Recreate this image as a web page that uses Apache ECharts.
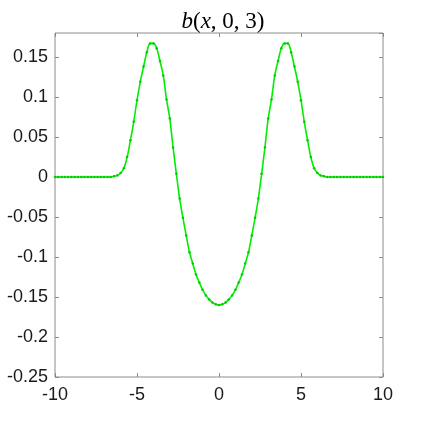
<!DOCTYPE html>
<html><head><meta charset="utf-8">
<script src="https://cdn.jsdelivr.net/npm/echarts@6/dist/echarts.min.js"></script>
<style>html,body{margin:0;padding:0;background:#fff}#c{width:423px;height:423px}</style>
</head><body><div id="c"></div>
<script>
const xValues = [-10,-9.8,-9.6,-9.4,-9.2,-9,-8.8,-8.6,-8.4,-8.2,-8,-7.8,-7.6,-7.4,-7.2,-7,-6.8,-6.6,-6.4,-6.2,-6,-5.8,-5.6,-5.4,-5.2,-5,-4.8,-4.6,-4.4,-4.2,-4,-3.8,-3.6,-3.4,-3.2,-3,-2.8,-2.6,-2.4,-2.2,-2,-1.8,-1.6,-1.4,-1.2,-1,-0.8,-0.6,-0.4,-0.2,0,0.2,0.4,0.6,0.8,1,1.2,1.4,1.6,1.8,2,2.2,2.4,2.6,2.8,3,3.2,3.4,3.6,3.8,4,4.2,4.4,4.6,4.8,5,5.2,5.4,5.6,5.8,6,6.2,6.4,6.6,6.8,7,7.2,7.4,7.6,7.8,8,8.2,8.4,8.6,8.8,9,9.2,9.4,9.6,9.8,10];
const bValues = [0,0,0,0,0,0,0,0,0,0,0,0,0,0,0,0,0,0,0.001,0.002,0.005,0.011,0.025,0.046,0.069,0.096,0.119,0.138,0.156,0.167,0.167,0.161,0.145,0.127,0.097,0.073,0.037,0.004,-0.027,-0.051,-0.073,-0.094,-0.108,-0.122,-0.132,-0.141,-0.148,-0.153,-0.157,-0.159,-0.160,-0.159,-0.157,-0.153,-0.148,-0.141,-0.132,-0.122,-0.108,-0.094,-0.073,-0.051,-0.027,0.004,0.037,0.073,0.097,0.127,0.145,0.161,0.167,0.167,0.156,0.138,0.119,0.096,0.069,0.046,0.025,0.011,0.005,0.002,0.001,0,0,0,0,0,0,0,0,0,0,0,0,0,0,0,0,0,0];
const xTicks = [-10,-5,0,5,10];
const yTicks = [-0.25,-0.2,-0.15,-0.1,-0.05,0,0.05,0.1,0.15];

const chart = echarts.init(document.getElementById('c'), null, {renderer:'canvas'});
const frame = '#8c8c8c';
const lblFont = {fontFamily:'Liberation Sans, Arial, sans-serif', fontSize:18, color:'#1a1a1a'};
const fmtY = v => { const r = Math.round(v*100)/100; return yTicks.some(t=>Math.abs(t-r)<1e-9) ? String(r) : ''; };
const fmtX = v => xTicks.indexOf(v) >= 0 ? String(v) : '';
const hiddenLine = {show:false, onZero:false};
chart.setOption({
  animation:false,
  title:{
    text:'{i|b}({i|x}, 0, 3)', left:218, top:5, textAlign:'center',
    textStyle:{fontFamily:'Liberation Serif, serif', fontSize:23, fontWeight:'normal', color:'#000',
      rich:{i:{fontFamily:'Liberation Serif, serif', fontStyle:'italic', fontSize:23, color:'#000'}}}
  },
  grid:{left:55, right:40, top:33, bottom:46, show:true, borderColor:frame, borderWidth:1},
  xAxis:[
    {type:'value', min:-10, max:10, interval:5, position:'bottom',
     axisLine:hiddenLine, splitLine:{show:false},
     axisTick:{inside:true, length:4, lineStyle:{color:frame}},
     axisLabel:Object.assign({margin:9, formatter:fmtX}, lblFont)},
    {type:'value', min:-10, max:10, interval:5, position:'top',
     axisLine:hiddenLine, splitLine:{show:false},
     axisTick:{inside:true, length:4, lineStyle:{color:frame}}, axisLabel:{show:false}}
  ],
  yAxis:[
    {type:'value', min:-0.25, max:0.18, interval:0.05, position:'left',
     axisLine:hiddenLine, splitLine:{show:false},
     axisTick:{inside:true, length:4, lineStyle:{color:frame}},
     axisLabel:Object.assign({margin:7, showMaxLabel:false, formatter:fmtY}, lblFont)},
    {type:'value', min:-0.25, max:0.18, interval:0.05, position:'right',
     axisLine:hiddenLine, splitLine:{show:false},
     axisTick:{inside:true, length:4, lineStyle:{color:frame}}, axisLabel:{show:false}}
  ],
  series:[{
    type:'line', xAxisIndex:0, yAxisIndex:0,
    data:xValues.map((x,i)=>[x,bValues[i]]),
    smooth:0.3, symbol:'circle', symbolSize:2.5, showSymbol:true,
    lineStyle:{color:'#00ee00', width:1.6},
    itemStyle:{color:'#00cc00'}
  }]
});
</script></body></html>
